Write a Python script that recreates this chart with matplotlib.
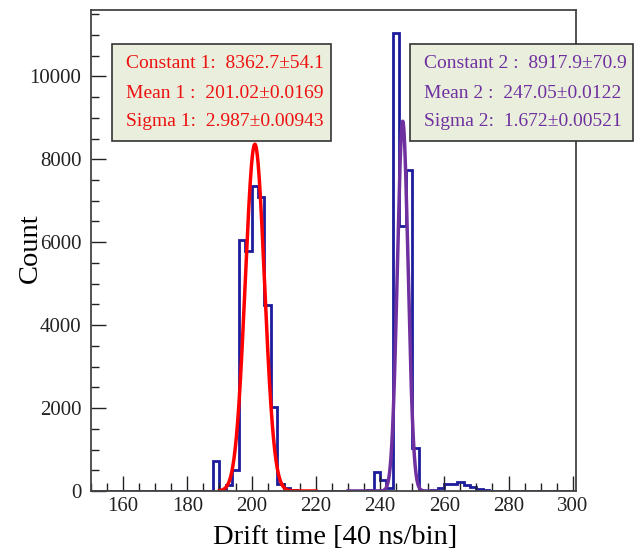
import numpy as np
import matplotlib
matplotlib.use("Agg")
import matplotlib.pyplot as plt
from matplotlib.patches import Rectangle
from matplotlib.ticker import MultipleLocator

plt.rcParams['font.family'] = ['Liberation Serif', 'DejaVu Serif']

# histogram: 2 units per bin, 150 .. 302
bin_edges = np.arange(150, 304, 2)
counts = [
    0, 0, 0, 0, 0, 0, 0, 0, 0, 0,            # 150-170
    0, 0, 0, 0, 0, 0, 0, 0, 0, 720,          # 170-190
    20, 150, 510, 6050, 5790, 7350, 7090, 4480, 2030, 180,   # 190-210
    80, 30, 0, 0, 0, 0, 0, 0, 0, 0,          # 210-230
    0, 0, 0, 20, 470, 260, 65, 11050, 6390, 7750,            # 230-250
    1030, 10, 5, 20, 65, 160, 160, 225, 145, 105,            # 250-270
    50, 15, 0, 0, 0, 0, 0, 0, 0, 0,          # 270-290
    0, 0, 0, 0, 0, 0,                        # 290-302
]

# gaussian fit results
const1, mean1, sigma1 = 8362.7, 201.02, 2.987
const2, mean2, sigma2 = 8917.9, 247.05, 1.672
fit1_text = ["Constant 1:  8362.7\u00b154.1", "Mean 1 :  201.02\u00b10.0169", "Sigma 1:  2.987\u00b10.00943"]
fit2_text = ["Constant 2 :  8917.9\u00b170.9", "Mean 2 :  247.05\u00b10.0122", "Sigma 2:  1.672\u00b10.00521"]

W, H = 640, 551
fig = plt.figure(figsize=(W / 100, H / 100), dpi=100)
ax = fig.add_axes([91 / W, 1 - 491 / H, (576 - 91) / W, (491 - 10) / H])

ax.stairs(counts, bin_edges, color='#1c1c9c', lw=2)

x1 = np.linspace(190, 220, 400)
ax.plot(x1, const1 * np.exp(-0.5 * ((x1 - mean1) / sigma1) ** 2), color='#ff0000', lw=2.5)
x2 = np.linspace(230, 258, 400)
ax.plot(x2, const2 * np.exp(-0.5 * ((x2 - mean2) / sigma2) ** 2), color='#7030a0', lw=2.5)

ax.set_xlim(150, 301)
ax.set_ylim(0, 11600)
ax.xaxis.set_major_locator(MultipleLocator(20))
ax.xaxis.set_minor_locator(MultipleLocator(5))
ax.yaxis.set_major_locator(MultipleLocator(2000))
ax.yaxis.set_minor_locator(MultipleLocator(500))
ax.tick_params(which='both', direction='in', top=False, right=False,
               labelsize=15, colors='#222222', width=1)
ax.tick_params(which='major', length=11)
ax.tick_params(which='minor', length=6)
ax.tick_params(axis='y', pad=7)
ax.tick_params(axis='x', pad=4)
for s in ax.spines.values():
    s.set_color('#444444')
    s.set_linewidth(1.3)

fig.text(335 / W, 1 - 537 / H, "Drift time [40 ns/bin]", ha='center', va='center', fontsize=20.5)
fig.text(30 / W, 1 - 248 / H, "Count", ha='center', va='center', rotation=90, fontsize=20.5)


def fit_box(x0, x1, y0, y1, lines, color):
    fig.patches.append(Rectangle((x0 / W, 1 - y1 / H), (x1 - x0) / W, (y1 - y0) / H,
                                 transform=fig.transFigure, facecolor='#e9efdc',
                                 edgecolor='#333333', lw=1.2, zorder=5))
    for i, line in enumerate(lines):
        fig.text((x0 + 14) / W, 1 - (64 + 29 * i) / H, line, color=color,
                 fontsize=14, ha='left', va='center', zorder=6)


fit_box(112, 331, 44, 141, fit1_text, '#ee1111')
fit_box(410, 633, 44, 141, fit2_text, '#7030a0')

fig.savefig("out.png", dpi=100)
